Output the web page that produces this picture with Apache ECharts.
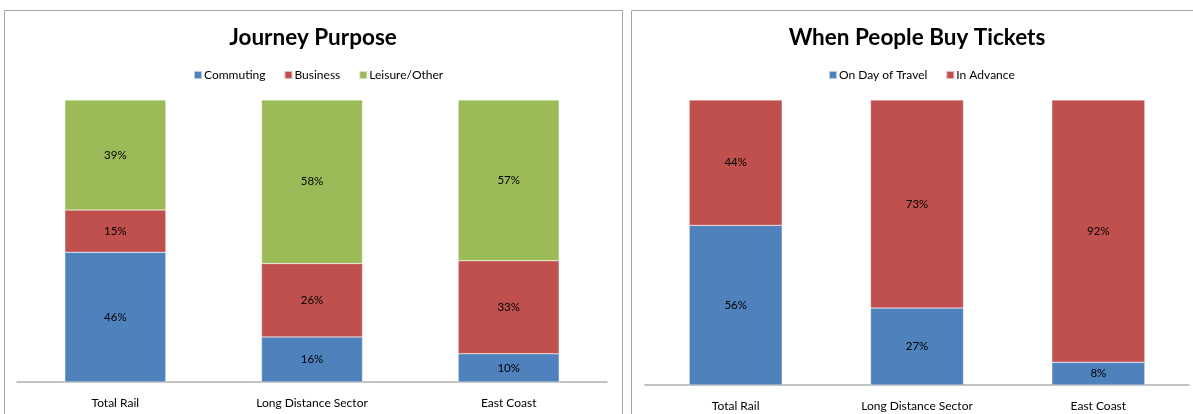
<!DOCTYPE html>
<html><head><meta charset="utf-8">
<script src="https://cdn.jsdelivr.net/npm/echarts@6/dist/echarts.min.js"></script>
<style>html,body{margin:0;padding:0;background:#fff}#c{width:1193px;height:414px}</style>
</head><body><div id="c"></div>
<script>
const categories = ['Total Rail', 'Long Distance Sector', 'East Coast'];
const commuting = [46, 16, 10];
const business = [15, 26, 33];
const leisure = [39, 58, 57];
const onDay = [56, 27, 8];
const inAdvance = [44, 73, 92];
const title1 = 'Journey Purpose';
const title2 = 'When People Buy Tickets';

const FONT = 'Lato, "Open Sans", sans-serif';
const BLUE = '#4F81BD', RED = '#C0504D', GREEN = '#9BBB59';

function bar(name, data, color, idx, bw) {
  return {
    name, type: 'bar', stack: 's' + idx, data,
    xAxisIndex: idx, yAxisIndex: idx, barWidth: bw,
    itemStyle: { color, borderColor: 'rgba(255,255,255,0.6)', borderWidth: 0.5 },
    label: { show: true, position: 'inside', formatter: p => p.value + '%', color: '#000', fontSize: 11.5, fontFamily: FONT },
    emphasis: { disabled: true }
  };
}
const chart = echarts.init(document.getElementById('c'), null, { renderer: 'canvas' });
chart.setOption({
  animation: false,
  title: [
    { text: title1, left: 308, top: 21, textAlign: 'center', textStyle: { fontFamily: FONT, fontSize: 22.5, fontWeight: 'bold', color: '#000' } },
    { text: title2, left: 912, top: 21, textAlign: 'center', textStyle: { fontFamily: FONT, fontSize: 22.5, fontWeight: 'bold', color: '#000' } }
  ],
  legend: [
    { data: ['Commuting', 'Business', 'Leisure/Other'], left: 188, top: 64, itemWidth: 8, itemHeight: 8, itemGap: 18, icon: 'rect',
      textStyle: { fontFamily: FONT, fontSize: 12, color: '#000', padding: [0, 0, 0, -3] } },
    { data: ['On Day of Travel', 'In Advance'], left: 823, top: 64, itemWidth: 8, itemHeight: 8, itemGap: 18, icon: 'rect',
      textStyle: { fontFamily: FONT, fontSize: 12, color: '#000', padding: [0, 0, 0, -3] } }
  ],
  grid: [
    { left: 17, right: 586, top: 100, bottom: 32 },
    { left: 645, right: 4, top: 100, bottom: 29 }
  ],
  xAxis: [0, 1].map(i => ({
    type: 'category', data: categories, gridIndex: i,
    axisLine: { lineStyle: { color: '#b0b0b0', width: 1.5 } }, axisTick: { show: false },
    axisLabel: { color: '#000', fontSize: 12, fontFamily: FONT, margin: 15 }
  })),
  yAxis: [0, 1].map(i => ({ type: 'value', gridIndex: i, min: 0, max: 100, show: false, splitLine: { show: false } })),
  series: [
    bar('Commuting', commuting, BLUE, 0, 101),
    bar('Business', business, RED, 0, 101),
    bar('Leisure/Other', leisure, GREEN, 0, 101),
    bar('On Day of Travel', onDay, BLUE, 1, 93),
    bar('In Advance', inAdvance, RED, 1, 93)
  ],
  graphic: [
    { type: 'rect', shape: { x: 4.5, y: 10.5, width: 618, height: 420 }, style: { fill: 'none', stroke: '#a6a6a6', lineWidth: 1 }, silent: true },
    { type: 'rect', shape: { x: 631.5, y: 10.5, width: 600, height: 420 }, style: { fill: 'none', stroke: '#a6a6a6', lineWidth: 1 }, silent: true }
  ]
});
</script></body></html>
